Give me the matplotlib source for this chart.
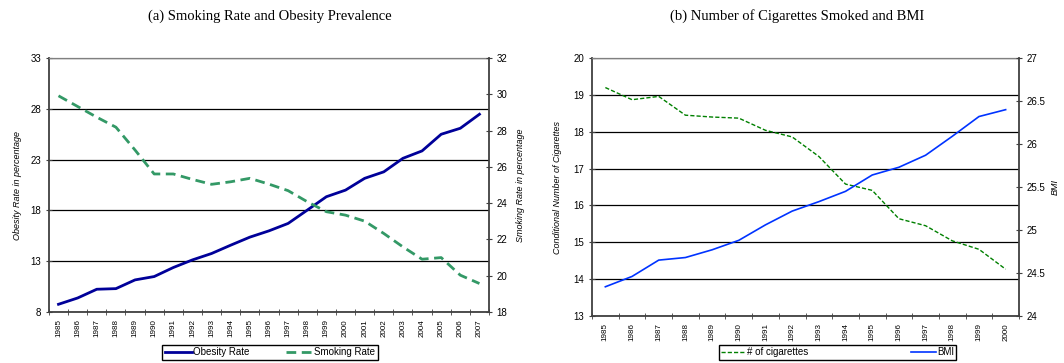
import matplotlib.pyplot as plt
import numpy as np

# Panel (a): obesity vs smoking, 1985-2007
anos_a = [str(a) for a in range(1985, 2008)]
obesidade = [8.76, 9.38, 10.24, 10.3, 11.16, 11.49, 12.38, 13.13, 13.76, 14.58, 15.37, 15.99,
             16.72, 18.03, 19.35, 20.0, 21.16, 21.8, 23.13, 23.86, 25.5, 26.09, 27.47]
fumantes = [29.92, 29.33, 28.74, 28.19, 26.93, 25.61, 25.61, 25.31, 25.04, 25.18, 25.37, 25.05,
            24.69, 24.08, 23.53, 23.34, 23.01, 22.33, 21.59, 20.91, 21.0, 20.03, 19.57]

# Panel (b): cigarettes vs BMI, 1985-2000
anos_b = [str(a) for a in range(1985, 2001)]
cigarros = [19.2, 18.87, 18.96, 18.45, 18.4, 18.37, 18.04, 17.86,
            17.33, 16.58, 16.41, 15.64, 15.45, 15.04, 14.81, 14.27]
imc = [24.34, 24.46, 24.65, 24.68, 24.77, 24.88, 25.06, 25.22,
       25.33, 25.45, 25.64, 25.73, 25.87, 26.09, 26.32, 26.4]

plt.rcParams['font.family'] = ['Liberation Sans', 'DejaVu Sans']

fig = plt.figure(figsize=(10.64, 3.63), dpi=100)
cor_eixo = '#404040'


def montar_eixos(ax, ax2, anos):
    n = len(anos)
    x = np.arange(n)
    ax.set_xlim(-0.5, n - 0.5)
    ax.set_xticks(x)
    ax.set_xticklabels(anos, rotation=90, fontsize=5.8)
    ax.tick_params(axis='x', which='major', length=0, pad=5)
    ax.set_xticks(np.arange(n + 1) - 0.5, minor=True)
    ax.tick_params(axis='x', which='minor', length=5, direction='inout', color=cor_eixo)
    ax.tick_params(axis='y', length=5, direction='inout', labelsize=7, color=cor_eixo, pad=3)
    ax2.tick_params(axis='y', length=5, direction='inout', labelsize=7, color=cor_eixo, pad=3)
    ax.yaxis.grid(True, color='black', linewidth=0.9)
    ax.set_axisbelow(True)
    for s in ['left', 'bottom']:
        ax.spines[s].set_color(cor_eixo)
        ax.spines[s].set_linewidth(1.3)
    ax.spines['top'].set_color('#808080')
    ax.spines['top'].set_linewidth(0.9)
    ax.spines['right'].set_visible(False)
    for s in ['left', 'bottom', 'top']:
        ax2.spines[s].set_visible(False)
    ax2.spines['right'].set_color(cor_eixo)
    ax2.spines['right'].set_linewidth(1.3)
    return x


# ---- painel (a)
ax = fig.add_axes([0.046, 0.1405, 0.4136, 0.6995])
ax2 = ax.twinx()
x = montar_eixos(ax, ax2, anos_a)
ax.set_ylim(8, 33)
ax.set_yticks([8, 13, 18, 23, 28, 33])
ax2.set_ylim(18, 32)
ax2.set_yticks(range(18, 33, 2))
l1, = ax.plot(x, obesidade, color='#000099', lw=2, label='Obesity Rate')
l2, = ax2.plot(x, fumantes, color='#339966', lw=2, ls=(0, (3.5, 2)), label='Smoking Rate')
ax.set_ylabel('Obesity Rate in percentage', fontsize=6.5, style='italic', labelpad=6)
ax2.set_ylabel('Smoking Rate in percentage', fontsize=6.5, style='italic', labelpad=6)
fig.legend(handles=[l1, l2], loc='center', bbox_to_anchor=(0.2538, 0.030), ncol=2,
           fontsize=7, frameon=True, fancybox=False, edgecolor='black', framealpha=1,
           borderpad=0.25, handlelength=2.8, handletextpad=0.1, columnspacing=3.8)
fig.text(0.2538, 0.955, '(a) Smoking Rate and Obesity Prevalence', ha='center', va='center',
         fontsize=10.5, family='Liberation Serif')

# ---- painel (b)
bx = fig.add_axes([0.5564, 0.1295, 0.4013, 0.7105])
bx2 = bx.twinx()
x = montar_eixos(bx, bx2, anos_b)
bx.set_ylim(13, 20)
bx.set_yticks(range(13, 21))
bx2.set_ylim(24, 27)
bx2.set_yticks(np.arange(24, 27.01, 0.5))
bx2.set_yticklabels(['24', '24.5', '25', '25.5', '26', '26.5', '27'])
m1, = bx.plot(x, cigarros, color='#008000', lw=1, ls=(0, (3, 1.5)), label='# of cigarettes')
m2, = bx2.plot(x, imc, color='#0033FF', lw=1.2, label='BMI')
bx.set_ylabel('Conditional Number of Cigarettes', fontsize=6.5, style='italic', labelpad=8)
bx2.set_ylabel('BMI', fontsize=6.5, style='italic', rotation=90, va='center')
bx2.yaxis.set_label_coords(1.085, 0.5)
fig.legend(handles=[m1, m2], loc='center', bbox_to_anchor=(0.787, 0.030), ncol=2,
           fontsize=7, frameon=True, fancybox=False, edgecolor='black', framealpha=1,
           borderpad=0.25, handlelength=2.6, handletextpad=0.1, columnspacing=10.5)
fig.text(0.749, 0.955, '(b) Number of Cigarettes Smoked and BMI', ha='center', va='center',
         fontsize=10.5, family='Liberation Serif')

fig.savefig('out.png', dpi=100)
